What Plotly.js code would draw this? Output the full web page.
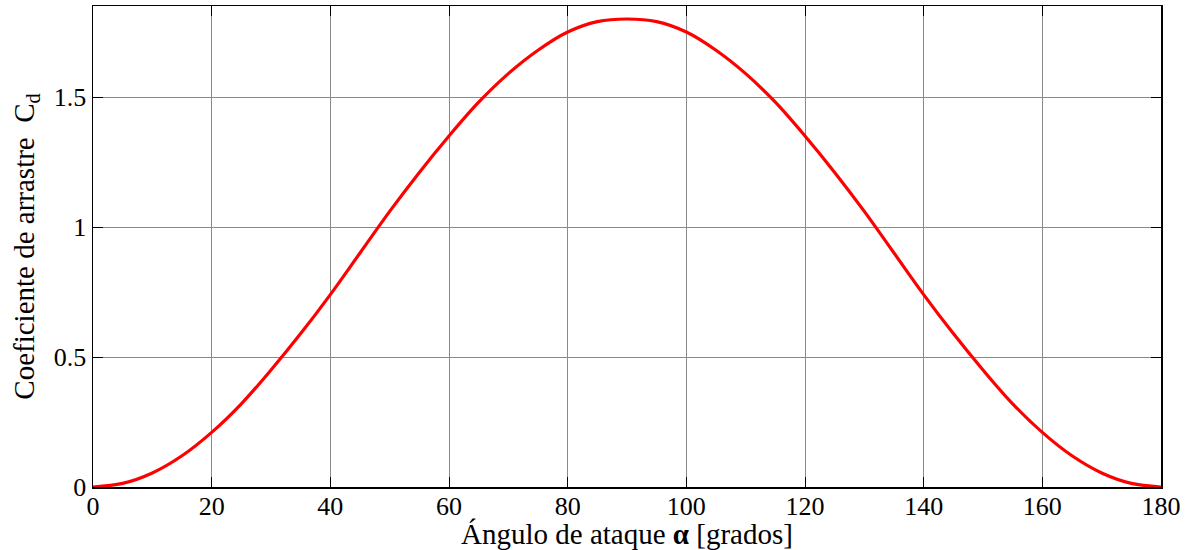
<!DOCTYPE html>
<html>
<head>
<meta charset="utf-8">
<script src="https://cdn.plot.ly/plotly-3.0.1.min.js"></script>
<style>html,body{margin:0;padding:0;background:#fff;}#chart{width:1188px;height:550px;}</style>
</head>
<body>
<div id="chart"></div>
<script>
// Angle of attack [deg] and drag coefficient
const angles = [0,5,10,15,20,25,30,35,40,45,50,55,60,65,70,75,80,85,90,95,100,105,110,115,120,125,130,135,140,145,150,155,160,165,170,175,180];
const cd = [0,0.014,0.054,0.12,0.21,0.32,0.45,0.59,0.74,0.90,1.06,1.21,1.35,1.48,1.59,1.68,1.75,1.79,1.80,1.79,1.75,1.68,1.59,1.48,1.35,1.21,1.06,0.90,0.74,0.59,0.45,0.32,0.21,0.12,0.054,0.014,0];
const xTicks = [0,20,40,60,80,100,120,140,160,180];
const yTicks = [0,0.5,1,1.5];
const yTickLabels = ['0','0.5','1','1.5'];

const fontFam = 'Liberation Serif, Times New Roman, serif';
const trace = {
  x: angles, y: cd, type: 'scatter', mode: 'lines',
  line: {color: '#ff0000', width: 3.2, shape: 'spline', smoothing: 1},
  hoverinfo: 'skip'
};
const layout = {
  width: 1188, height: 550,
  margin: {l: 93, r: 27, t: 6, b: 63},
  paper_bgcolor: '#fff', plot_bgcolor: '#fff',
  showlegend: false,
  font: {family: fontFam, color: '#000', size: 26},
  xaxis: {
    range: [0, 180], tickvals: xTicks, ticktext: xTicks.map(String),
    ticks: 'inside', ticklen: 10, tickwidth: 1, tickcolor: '#000',
    showline: true, linecolor: '#000', linewidth: 1.5, mirror: 'allticks',
    showgrid: true, gridcolor: '#8a8a8a', gridwidth: 1, zeroline: false,
    ticklabelstandoff: -5,
    tickfont: {family: fontFam, size: 26, color: '#000'},
    title: {text: 'Ángulo de ataque <b>α</b> [grados]', font: {family: fontFam, size: 29, color: '#000'}, standoff: 0}
  },
  yaxis: {
    range: [0, 1.85], tickvals: yTicks, ticktext: yTickLabels,
    ticks: 'inside', ticklen: 10, tickwidth: 1, tickcolor: '#000',
    showline: true, linecolor: '#000', linewidth: 1.5, mirror: 'allticks',
    showgrid: true, gridcolor: '#8a8a8a', gridwidth: 1, zeroline: false,
    tickfont: {family: fontFam, size: 26, color: '#000'},
    title: {text: 'Coeficiente de arrastre  C<sub>d</sub>', font: {family: fontFam, size: 29, color: '#000'}, standoff: 10}
  }
};
Plotly.newPlot('chart', [trace], layout, {displayModeBar: false, staticPlot: true});
</script>
</body>
</html>
